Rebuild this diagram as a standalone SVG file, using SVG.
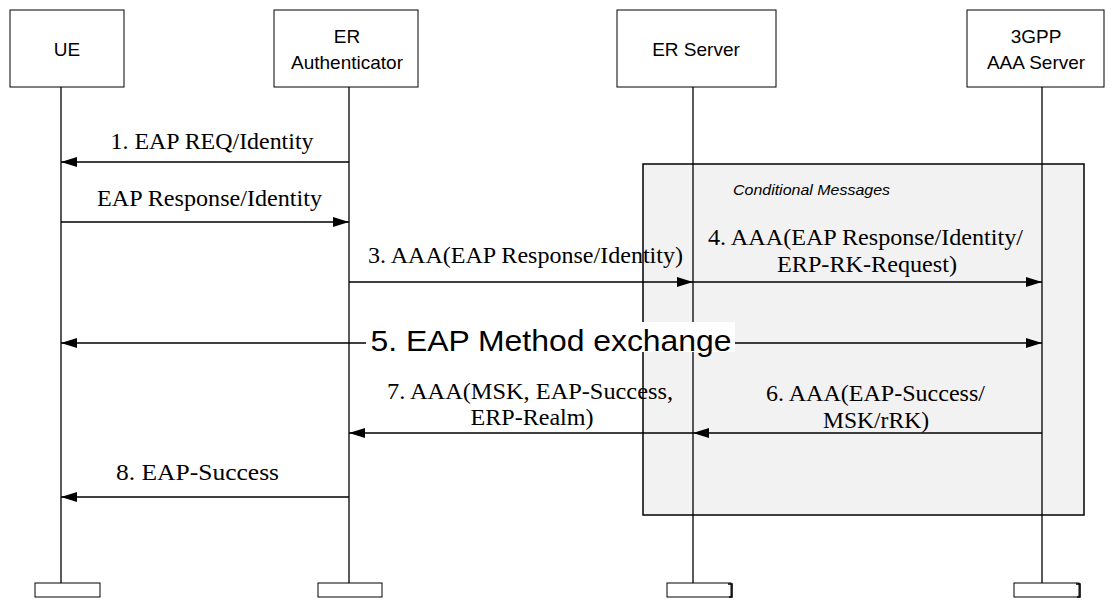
<svg xmlns="http://www.w3.org/2000/svg" width="1114" height="601" viewBox="0 0 1114 601">
<style>
.box{fill:#fff;stroke:#000;stroke-width:1}
.foot{fill:#fff;stroke:#000;stroke-width:1}
.shadow{fill:none;stroke:#000;stroke-width:1.6}
.life{stroke:#000;stroke-width:1.3;fill:none}
.hdr{font-family:"Liberation Sans",Arial,sans-serif;font-size:19px;fill:#000;text-anchor:middle}
.msg{font-family:"Liberation Serif","Times New Roman",serif;font-size:23px;fill:#000;text-anchor:middle}
.big{font-family:"Liberation Sans",Arial,sans-serif;font-size:29px;fill:#000;text-anchor:middle}
.note{font-family:"Liberation Sans",Arial,sans-serif;font-size:15px;font-style:italic;fill:#000}
.arr{stroke:#000;stroke-width:1.6;fill:none}
</style>
<defs>
<marker id="ah" markerWidth="16" markerHeight="10" refX="16" refY="5" orient="auto" markerUnits="userSpaceOnUse">
<path d="M0,0 L16,5 L0,10 Z" fill="#000"/>
</marker>
<marker id="ahs" markerWidth="16" markerHeight="10" refX="0" refY="5" orient="auto" markerUnits="userSpaceOnUse">
<path d="M16,0 L0,5 L16,10 Z" fill="#000"/>
</marker>
</defs>
<g id="conditional">
<rect x="643" y="164" width="441" height="351" fill="#f2f2f2" stroke="#000" stroke-width="1.5"/>
<text class="note" x="733" y="195" textLength="157" lengthAdjust="spacingAndGlyphs">Conditional Messages</text>
</g>
<g id="lifelines">
<line class="life" x1="61" y1="87" x2="61" y2="583"/>
<line class="life" x1="349" y1="87" x2="349" y2="583"/>
<line class="life" x1="693" y1="87" x2="693" y2="583"/>
<line class="life" x1="1042" y1="87" x2="1042" y2="583"/>
</g>
<g id="ue"><rect class="box" x="10" y="10" width="114" height="77"/><text class="hdr" x="67" y="56">UE</text><rect class="foot" x="35" y="583" width="65" height="14"/></g>
<g id="er-auth"><rect class="box" x="274" y="10" width="144" height="77"/><text class="hdr" x="347" y="43">ER</text><text class="hdr" x="347" y="69">Authenticator</text><rect class="foot" x="318" y="583" width="64" height="14"/></g>
<g id="er-server"><rect class="box" x="617" y="10" width="159" height="77"/><text class="hdr" x="696" y="56">ER Server</text><rect class="foot" x="667" y="583" width="64" height="14"/><path class="shadow" d="M728,584 H732 V597 H729"/></g>
<g id="aaa"><rect class="box" x="967" y="10" width="137" height="77"/><text class="hdr" x="1036" y="43">3GPP</text><text class="hdr" x="1036" y="69">AAA Server</text><rect class="foot" x="1014" y="583" width="65" height="14"/><path class="shadow" d="M1076,584 H1080 V597 H1077"/></g>
<g id="connectors">
<line class="arr" x1="349" y1="162" x2="61" y2="162" marker-end="url(#ah)"/>
<line class="arr" x1="61" y1="222" x2="349" y2="222" marker-end="url(#ah)"/>
<line class="arr" x1="349" y1="282" x2="693" y2="282" marker-end="url(#ah)"/>
<line class="arr" x1="693" y1="282" x2="1042" y2="282" marker-end="url(#ah)"/>
<line class="arr" x1="61" y1="343" x2="1042" y2="343" marker-start="url(#ahs)" marker-end="url(#ah)"/>
<line class="arr" x1="1042" y1="433" x2="693" y2="433" marker-end="url(#ah)"/>
<line class="arr" x1="693" y1="433" x2="349" y2="433" marker-end="url(#ah)"/>
<line class="arr" x1="349" y1="497" x2="61" y2="497" marker-end="url(#ah)"/>
</g>
<g id="labels">
<text class="msg" x="212" y="149" textLength="203" lengthAdjust="spacingAndGlyphs">1. EAP REQ/Identity</text>
<text class="msg" x="209.5" y="206" textLength="225" lengthAdjust="spacingAndGlyphs">EAP Response/Identity</text>
<text class="msg" x="525.5" y="263" textLength="315" lengthAdjust="spacingAndGlyphs">3. AAA(EAP Response/Identity)</text>
<text class="msg" x="865.5" y="245" textLength="315" lengthAdjust="spacingAndGlyphs">4. AAA(EAP Response/Identity/</text>
<text class="msg" x="867" y="272" textLength="180" lengthAdjust="spacingAndGlyphs">ERP-RK-Request)</text>
<rect x="366" y="322" width="369" height="30" fill="#fff"/>
<text class="big" x="551" y="351" textLength="361" lengthAdjust="spacingAndGlyphs">5. EAP Method exchange</text>
<text class="msg" x="530" y="399" textLength="286" lengthAdjust="spacingAndGlyphs">7. AAA(MSK, EAP-Success,</text>
<text class="msg" x="532" y="425" textLength="123" lengthAdjust="spacingAndGlyphs">ERP-Realm)</text>
<text class="msg" x="875.5" y="401" textLength="219" lengthAdjust="spacingAndGlyphs">6. AAA(EAP-Success/</text>
<text class="msg" x="876" y="428" textLength="106" lengthAdjust="spacingAndGlyphs">MSK/rRK)</text>
<text class="msg" x="197.5" y="480" textLength="163" lengthAdjust="spacingAndGlyphs">8. EAP-Success</text>
</g>
</svg>
